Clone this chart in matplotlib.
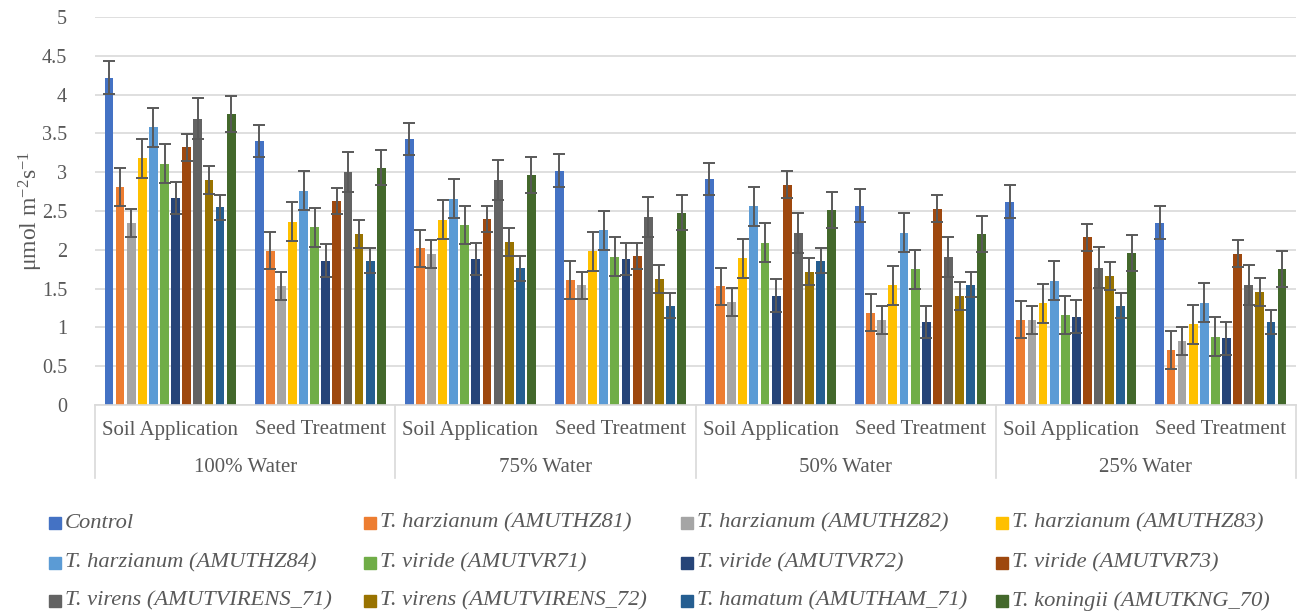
import matplotlib
matplotlib.use("Agg")
import matplotlib.pyplot as plt
from matplotlib.patches import Rectangle
import numpy as np

# ---- data ----
water_levels = ["100% Water", "75% Water", "50% Water", "25% Water"]
treatments = ["Soil Application", "Seed Treatment"]
series_names = [
    "Control",
    "T. harzianum (AMUTHZ81)",
    "T. harzianum (AMUTHZ82)",
    "T. harzianum (AMUTHZ83)",
    "T. harzianum (AMUTHZ84)",
    "T. viride (AMUTVR71)",
    "T. viride (AMUTVR72)",
    "T. viride (AMUTVR73)",
    "T. virens (AMUTVIRENS_71)",
    "T. virens (AMUTVIRENS_72)",
    "T. hamatum (AMUTHAM_71)",
    "T. koningii (AMUTKNG_70)",
]
control = [4.22, 3.40, 3.43, 3.02, 2.91, 2.57, 2.62, 2.35]
hz81 = [2.81, 1.99, 2.02, 1.61, 1.53, 1.19, 1.10, 0.71]
hz82 = [2.35, 1.53, 1.95, 1.54, 1.33, 1.10, 1.10, 0.82]
hz83 = [3.18, 2.36, 2.39, 1.98, 1.89, 1.54, 1.31, 1.04]
hz84 = [3.58, 2.76, 2.66, 2.25, 2.56, 2.22, 1.60, 1.32]
vr71 = [3.11, 2.29, 2.32, 1.91, 2.09, 1.75, 1.16, 0.88]
vr72 = [2.67, 1.86, 1.88, 1.88, 1.41, 1.07, 1.14, 0.86]
vr73 = [3.32, 2.63, 2.40, 1.92, 2.84, 2.53, 2.16, 1.95]
virens71 = [3.69, 3.00, 2.90, 2.42, 2.22, 1.91, 1.77, 1.55]
virens72 = [2.90, 2.20, 2.10, 1.62, 1.72, 1.41, 1.66, 1.46]
ham71 = [2.55, 1.86, 1.76, 1.28, 1.86, 1.55, 1.28, 1.07]
kng70 = [3.75, 3.06, 2.96, 2.48, 2.51, 2.20, 1.96, 1.75]
series_values = [control, hz81, hz82, hz83, hz84, vr71, vr72, vr73,
                 virens71, virens72, ham71, kng70]
series_errors = [0.21, 0.24, 0.18, 0.25, 0.25, 0.25, 0.21, 0.17, 0.26, 0.18, 0.16, 0.23]
yticks = [0, 0.5, 1, 1.5, 2, 2.5, 3, 3.5, 4, 4.5, 5]
ytick_labels = ["0", "0.5", "1", "1.5", "2", "2.5", "3", "3.5", "4", "4.5", "5"]

colors = ["#4472C4", "#ED7D31", "#A5A5A5", "#FFC000", "#5B9BD5", "#70AD47",
          "#264478", "#9E480E", "#636363", "#997300", "#255E91", "#43682B"]

# ---- style ----
plt.rcParams['font.family'] = ['Liberation Serif', 'DejaVu Serif']
plt.rcParams['mathtext.fontset'] = 'custom'
plt.rcParams['mathtext.rm'] = 'Liberation Serif'
plt.rcParams['mathtext.it'] = 'Liberation Serif:italic'
txt = "#595959"
grid_c = "#D9D9D9"

W, H = 1306, 616
fig = plt.figure(figsize=(W / 100, H / 100), dpi=100)
x0, x1, y_top, y_bot = 95, 1296, 17, 405
ax = fig.add_axes([x0 / W, 1 - y_bot / H, (x1 - x0) / W, (y_bot - y_top) / H])

n_groups = len(control)
x = np.arange(n_groups)
pitch = 0.074
bw = 0.059
n_series = len(series_values)
for i, (vals, err, col) in enumerate(zip(series_values, series_errors, colors)):
    offs = (i - (n_series - 1) / 2) * pitch
    ax.bar(x + offs, vals, width=bw, color=col, zorder=2, linewidth=0)
    ax.errorbar(x + offs, vals, yerr=[err] * n_groups, fmt='none',
                ecolor="#595959", elinewidth=1.4, capsize=4, capthick=1.4, zorder=3)

ax.set_xlim(-0.5, n_groups - 0.5)
ax.set_ylim(0, 5)
ax.set_yticks(yticks)
ax.set_yticklabels(ytick_labels)
ax.tick_params(axis='y', length=0, pad=20, labelsize=14.5, labelcolor=txt)
ax.set_xticks([])
for s in ["top", "right", "left"]:
    ax.spines[s].set_visible(False)
ax.spines["bottom"].set_color(grid_c)
ax.spines["bottom"].set_linewidth(1.2)
ax.yaxis.grid(True, color=grid_c, linewidth=1.2, zorder=0)
ax.set_axisbelow(True)

ax.set_ylabel(r"μmol m$^{-2}$s$^{-1}$", fontsize=17, color=txt)
ax.yaxis.set_label_coords(-0.042, 0.5)

# two-level category axis
trans = ax.get_xaxis_transform()
hpx = y_bot - y_top
sub_y = -(430 - y_bot) / hpx
grp_y = -(467 - y_bot) / hpx
line_y = -(478 - y_bot) / hpx
for g in range(n_groups):
    ax.text(x[g], sub_y, treatments[g % 2], transform=trans, ha='center', va='center',
            fontsize=15, color=txt)
for w in range(len(water_levels)):
    ax.text(2 * w + 0.5, grp_y, water_levels[w], transform=trans, ha='center', va='center',
            fontsize=15, color=txt)
for b in range(len(water_levels) + 1):
    xb = 2 * b - 0.5
    ax.plot([xb, xb], [0, line_y], transform=trans, color=grid_c, lw=1.2, clip_on=False)

# legend (4 columns x 3 rows, row-major)
col_x = [49, 364, 681, 996]
row_y = [523, 563, 601]
sq = 12
for i, (name, col) in enumerate(zip(series_names, colors)):
    r, c = divmod(i, 4)
    px, py = col_x[c], row_y[r]
    fig.patches.append(Rectangle((px / W, 1 - (py + sq / 2) / H), sq / W, sq / H,
                                 transform=fig.transFigure, color=col))
    fig.text((px + sq + 4) / W, 1 - py / H, name, ha='left', va='center',
             fontsize=16.2, color=txt, style='italic')

fig.savefig("out.png", dpi=100)
